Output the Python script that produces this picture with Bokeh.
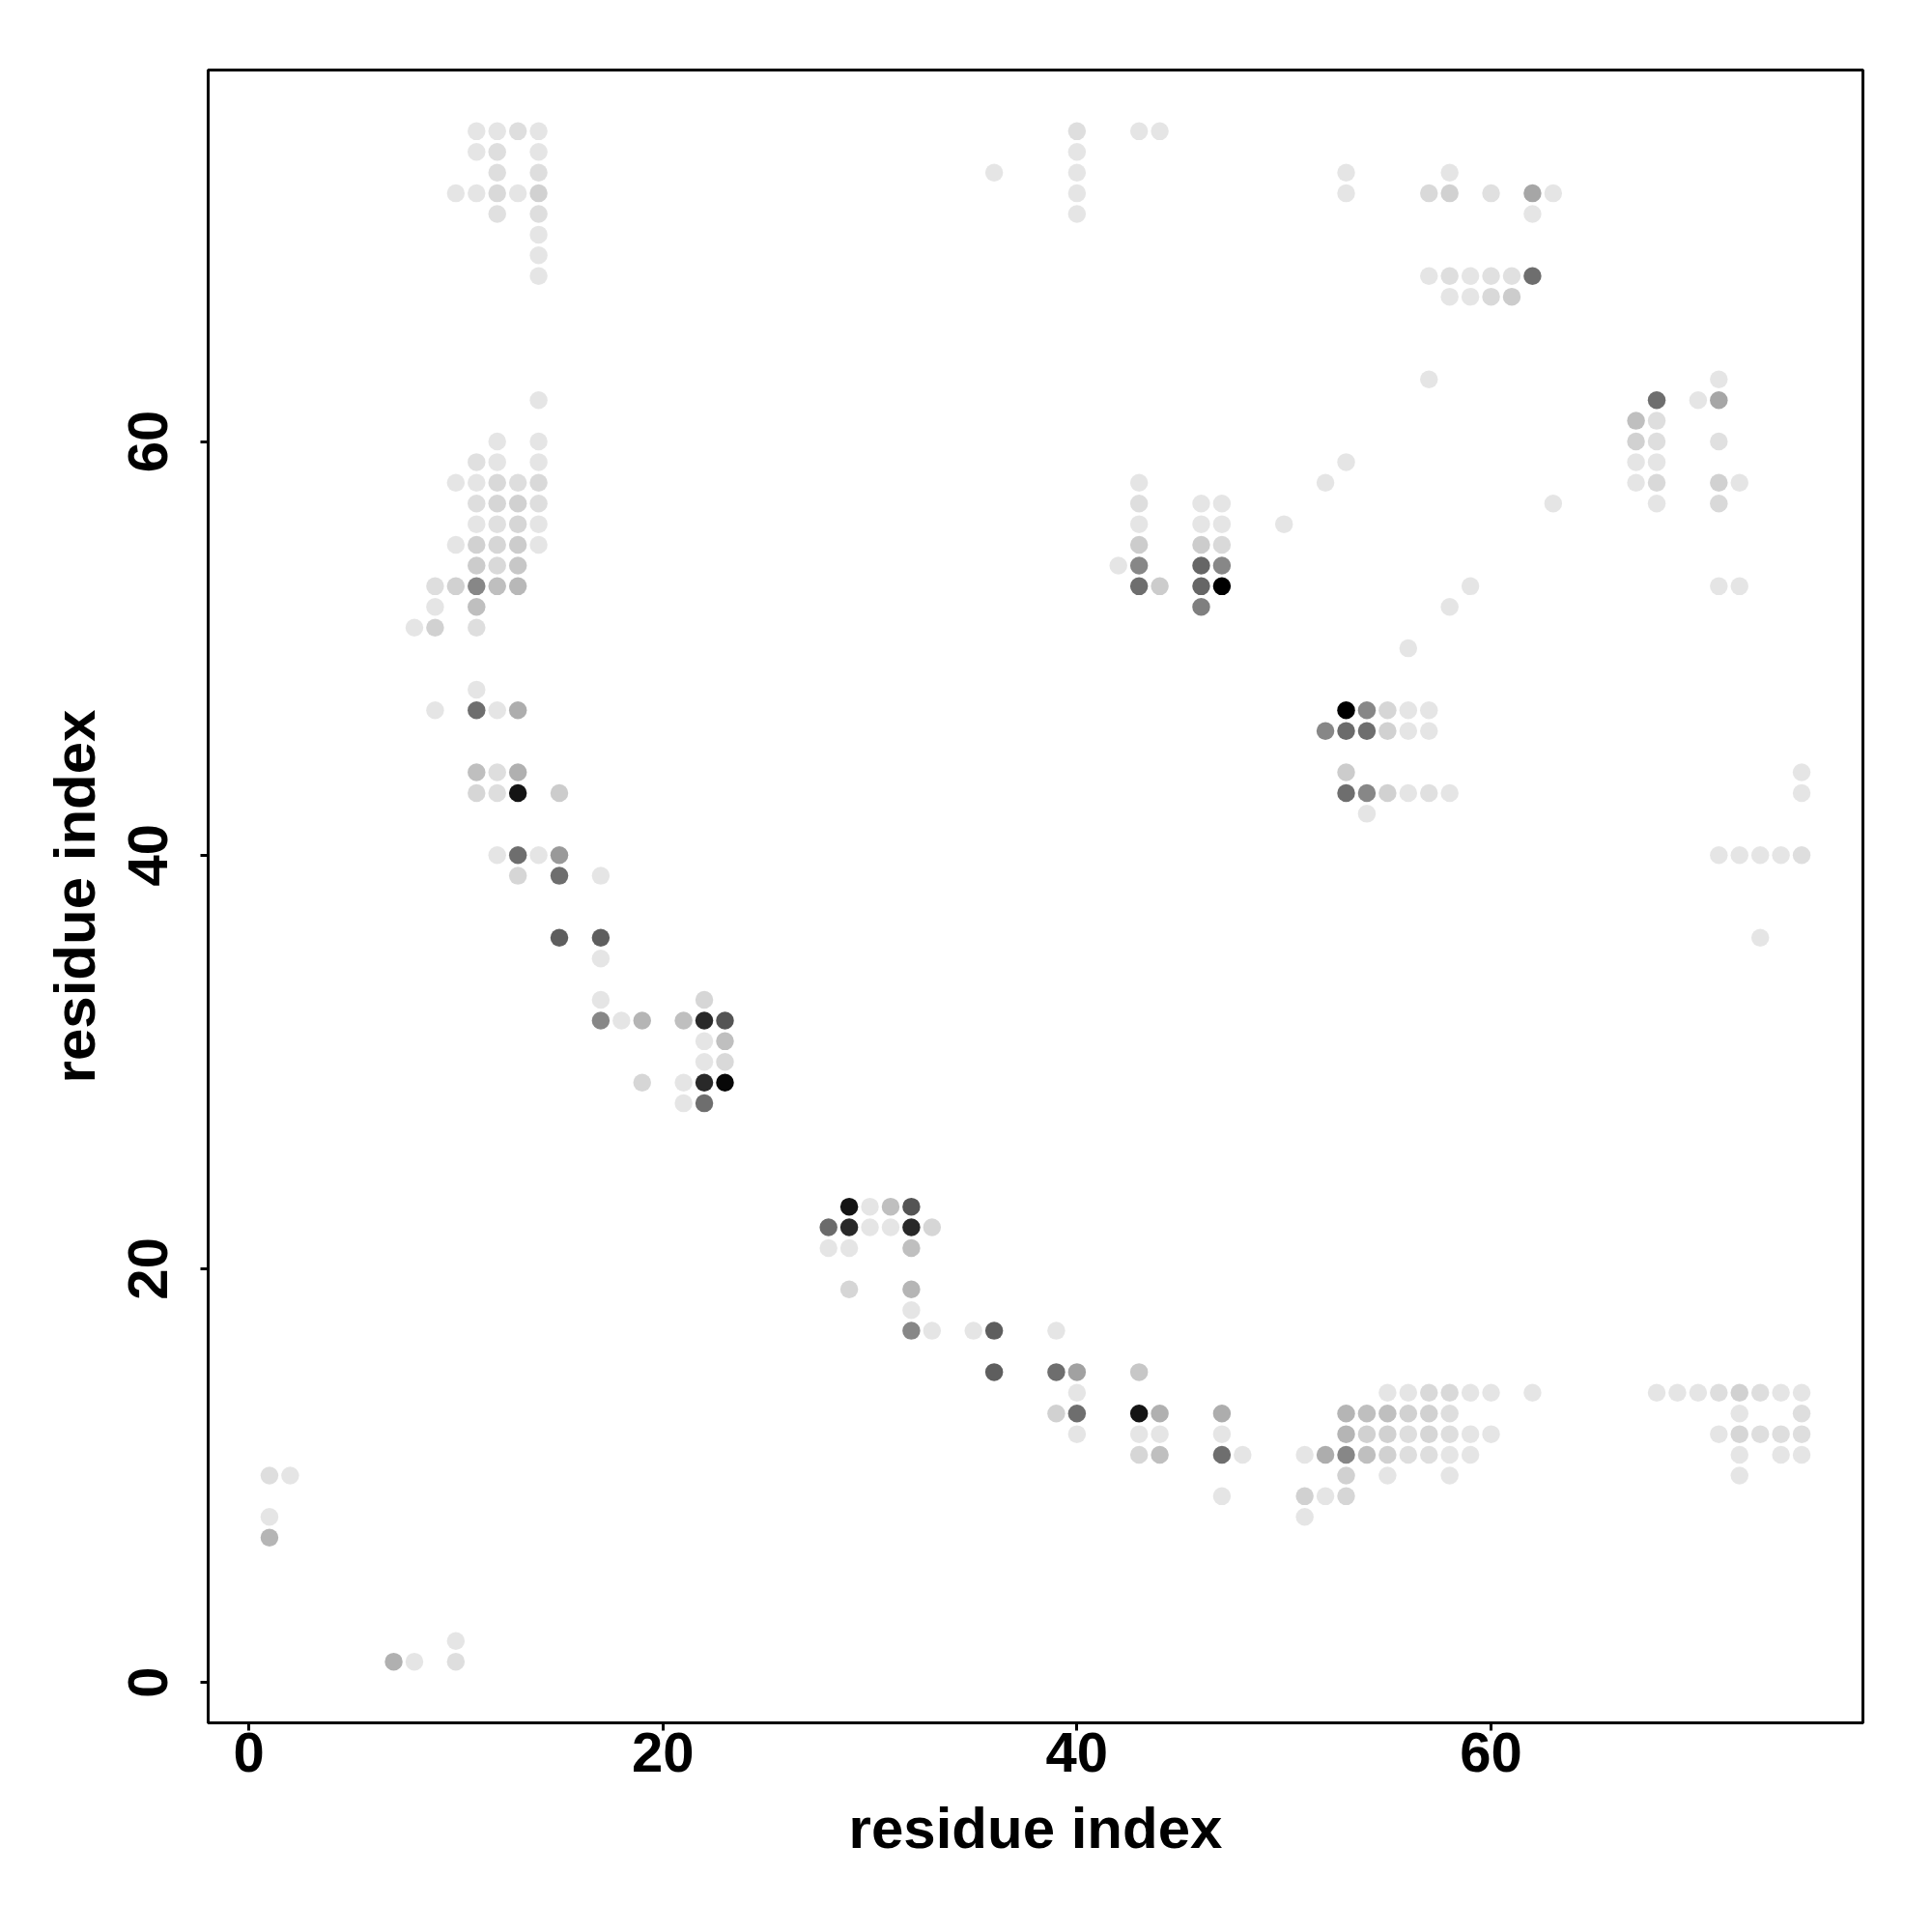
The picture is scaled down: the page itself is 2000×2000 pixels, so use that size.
from bokeh.plotting import figure
from bokeh.models import Range1d, FixedTicker, ColumnDataSource
from bokeh.embed import file_html
from bokeh.resources import INLINE

# Contact map: for each row (residue index j) the residues i in contact and the contact strength
row_j = [75, 74, 73, 72, 71, 70, 69, 68, 67, 63, 62, 61, 60, 59, 58, 57, 56, 55, 54, 53,
         52, 51, 50, 48, 47, 46, 44, 43, 42, 40, 39, 36, 35, 33, 32, 31, 30, 29, 28,
         23, 22, 21, 19, 18, 17, 15, 14, 13, 12, 11, 10, 9, 8, 7, 2, 1]

row_i = [
    [11, 12, 13, 14, 40, 43, 44],
    [11, 12, 14, 40],
    [12, 14, 36, 40, 53, 58],
    [10, 11, 12, 13, 14, 40, 53, 57, 58, 60, 62, 63],
    [12, 14, 40, 62],
    [14],
    [14],
    [14, 57, 58, 59, 60, 61, 62],
    [58, 59, 60, 61],
    [57, 71],
    [14, 68, 70, 71],
    [67, 68],
    [12, 14, 67, 68, 71],
    [11, 12, 14, 53, 67, 68],
    [10, 11, 12, 13, 14, 43, 52, 67, 68, 71, 72],
    [11, 12, 13, 14, 43, 46, 47, 63, 68, 71],
    [11, 12, 13, 14, 43, 46, 47, 50],
    [10, 11, 12, 13, 14, 43, 46, 47],
    [11, 12, 13, 42, 43, 46, 47],
    [9, 10, 11, 12, 13, 43, 44, 46, 47, 59, 71, 72],
    [9, 11, 46, 58],
    [8, 9, 11],
    [56],
    [11],
    [9, 11, 12, 13, 53, 54, 55, 56, 57],
    [52, 53, 54, 55, 56, 57],
    [11, 12, 13, 53, 75],
    [11, 12, 13, 15, 53, 54, 55, 56, 57, 58, 75],
    [54],
    [12, 13, 14, 15, 71, 72, 73, 74, 75],
    [13, 15, 17],
    [15, 17, 73],
    [17],
    [17, 22],
    [17, 18, 19, 21, 22, 23],
    [22, 23],
    [22, 23],
    [19, 21, 22, 23],
    [21, 22],
    [29, 30, 31, 32],
    [28, 29, 30, 31, 32, 33],
    [28, 29, 32],
    [29, 32],
    [32],
    [32, 33, 35, 36, 39],
    [36, 39, 40, 43],
    [40, 55, 56, 57, 58, 59, 60, 62, 68, 69, 70, 71, 72, 73, 74, 75],
    [39, 40, 43, 44, 47, 53, 54, 55, 56, 57, 58, 72, 75],
    [40, 43, 44, 47, 53, 54, 55, 56, 57, 58, 59, 60, 71, 72, 73, 74, 75],
    [43, 44, 47, 48, 51, 52, 53, 54, 55, 56, 57, 58, 59, 72, 74, 75],
    [1, 2, 53, 55, 58, 72],
    [47, 51, 52, 53],
    [1, 51],
    [1],
    [10],
    [7, 8, 10],
]

row_strength = [
    [.10, .10, .13, .10, .13, .10, .10],
    [.10, .13, .10, .10],
    [.13, .13, .10, .10, .10, .10],
    [.10, .10, .15, .10, .18, .10, .10, .15, .18, .12, .35, .10],
    [.12, .13, .10, .10],
    [.10],
    [.10],
    [.10, .10, .13, .10, .12, .12, .57],
    [.10, .10, .15, .20],
    [.10, .10],
    [.10, .57, .10, .35],
    [.25, .13],
    [.10, .10, .18, .13, .12],
    [.12, .10, .10, .10, .10, .10],
    [.10, .10, .15, .13, .15, .10, .10, .10, .15, .18, .10],
    [.13, .16, .18, .13, .13, .10, .10, .10, .10, .15],
    [.10, .12, .16, .10, .10, .10, .10, .10],
    [.10, .18, .16, .20, .10, .20, .20, .15],
    [.20, .15, .22, .10, .47, .60, .47],
    [.13, .18, .47, .25, .28, .57, .20, .60, 1.0, .10, .10, .10],
    [.10, .25, .50, .10],
    [.10, .18, .13],
    [.10],
    [.10],
    [.10, .57, .10, .32, 1.0, .47, .16, .10, .10],
    [.47, .58, .57, .18, .10, .10],
    [.25, .13, .31, .20, .10],
    [.16, .13, .92, .20, .57, .47, .18, .10, .12, .10, .10],
    [.10],
    [.10, .57, .10, .40, .10, .10, .10, .10, .13],
    [.16, .57, .10],
    [.63, .63, .10],
    [.10],
    [.10, .16],
    [.47, .10, .29, .25, .84, .67],
    [.10, .25],
    [.10, .15],
    [.16, .10, .84, .97],
    [.10, .57],
    [.92, .10, .25, .67],
    [.58, .84, .10, .10, .84, .16],
    [.10, .10, .25],
    [.16, .29],
    [.10],
    [.47, .10, .10, .63, .10],
    [.63, .57, .37, .22],
    [.10, .10, .10, .15, .15, .10, .10, .10, .10, .10, .10, .13, .18, .13, .10, .10],
    [.18, .57, .92, .31, .32, .29, .25, .25, .18, .18, .13, .10, .13],
    [.10, .10, .10, .10, .29, .18, .18, .13, .16, .13, .10, .10, .10, .16, .13, .13, .13],
    [.16, .25, .57, .10, .10, .32, .47, .25, .18, .13, .13, .10, .10, .10, .10, .10],
    [.13, .10, .18, .10, .10, .10],
    [.10, .18, .10, .16],
    [.10, .10],
    [.29],
    [.10],
    [.31, .10, .13],
]

tick_values = [0, 20, 40, 60]
axis_title = "residue index"

xs, ys, ss = [], [], []
for j, ii, st in zip(row_j, row_i, row_strength):
    for i, s in zip(ii, st):
        xs.append(i)
        ys.append(j)
        ss.append(s)

src = ColumnDataSource(dict(i=xs, j=ys, s=ss))

p = figure(width=1988, height=1988,
           x_range=Range1d(-1.96, 77.96), y_range=Range1d(-1.96, 77.96),
           output_backend="svg", toolbar_location=None,
           min_border_left=215, min_border_right=60,
           min_border_top=72, min_border_bottom=205)

p.scatter(x="i", y="j", source=src, marker="circle", size=18.5,
          fill_color="black", fill_alpha="s", line_color=None)

p.grid.visible = False
p.outline_line_color = "black"
p.outline_line_width = 3
p.background_fill_color = "white"
p.border_fill_color = "white"

for ax in (p.xaxis[0], p.yaxis[0]):
    ax.ticker = FixedTicker(ticks=tick_values)
    ax.axis_label = axis_title
    ax.axis_label_text_font = "Liberation Sans"
    ax.axis_label_text_font_style = "bold"
    ax.axis_label_text_font_size = "60px"
    ax.axis_label_text_color = "black"
    ax.major_label_text_font = "Liberation Sans"
    ax.major_label_text_font_style = "bold"
    ax.major_label_text_font_size = "58px"
    ax.major_label_text_color = "black"
    ax.major_tick_out = 8
    ax.major_tick_in = 0
    ax.minor_tick_out = 0
    ax.minor_tick_in = 0
    ax.major_tick_line_width = 3
    ax.major_tick_line_color = "black"
    ax.axis_line_width = 3
    ax.axis_line_color = "black"

p.xaxis[0].major_label_standoff = 2
p.xaxis[0].axis_label_standoff = 22
p.yaxis[0].major_label_orientation = "vertical"
p.yaxis[0].major_label_standoff = 34
p.yaxis[0].axis_label_standoff = 20

open("out.html", "w").write(file_html(p, INLINE))
